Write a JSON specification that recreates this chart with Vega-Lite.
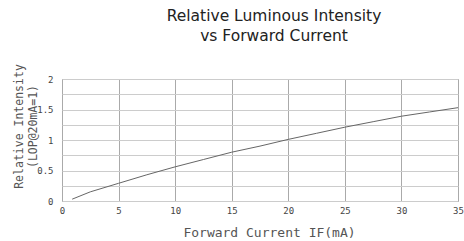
{
  "$schema": "https://vega.github.io/schema/vega-lite/v6.json",
  "autosize": "none",
  "width": 396,
  "height": 122,
  "padding": {"left": 62, "top": 79, "right": 6, "bottom": 40},
  "background": "white",
  "title": {
    "text": ["Relative Luminous Intensity", "vs Forward Current"],
    "font": "DejaVu Sans",
    "fontSize": 15.5,
    "fontWeight": "normal",
    "color": "#222",
    "anchor": "middle",
    "dx": 14,
    "offset": 19,
    "lineHeight": 20
  },
  "config": {
    "view": {"stroke": "#999", "strokeWidth": 1},
    "axis": {
      "labelFont": "DejaVu Sans Mono",
      "labelFontSize": 9,
      "labelColor": "#444",
      "titleFont": "DejaVu Sans Mono",
      "titleFontWeight": "normal",
      "titleColor": "#555",
      "ticks": false,
      "domain": false,
      "gridOpacity": 1
    }
  },
  "data": {
    "values": [
      {"current": 0.9, "intensity": 0.03},
      {"current": 2.5, "intensity": 0.15},
      {"current": 5, "intensity": 0.29},
      {"current": 7.5, "intensity": 0.43},
      {"current": 10, "intensity": 0.56},
      {"current": 12.5, "intensity": 0.68},
      {"current": 15, "intensity": 0.8},
      {"current": 17.5, "intensity": 0.9},
      {"current": 20, "intensity": 1.01},
      {"current": 22.5, "intensity": 1.11},
      {"current": 25, "intensity": 1.21},
      {"current": 27.5, "intensity": 1.3},
      {"current": 30, "intensity": 1.39},
      {"current": 32.5, "intensity": 1.46},
      {"current": 35, "intensity": 1.53}
    ]
  },
  "mark": {"type": "line", "color": "#666", "strokeWidth": 1},
  "encoding": {
    "x": {
      "field": "current",
      "type": "quantitative",
      "scale": {"domain": [0, 35], "nice": false},
      "axis": {
        "values": [0, 5, 10, 15, 20, 25, 30, 35],
        "title": "Forward Current IF(mA)",
        "titleFontSize": 13,
        "titlePadding": 11,
        "titleX": 207,
        "titleAlign": "center",
        "labelPadding": 5,
        "gridColor": "#aaa",
        "labelFlush": false
      }
    },
    "y": {
      "field": "intensity",
      "type": "quantitative",
      "scale": {"domain": [0, 2], "nice": false},
      "axis": {
        "values": [0, 0.25, 0.5, 0.75, 1, 1.25, 1.5, 1.75, 2],
        "labelExpr": "datum.value % 0.5 == 0 ? format(datum.value, '~g') : ''",
        "title": ["Relative Intensity", "(LOP@20mA=1)"],
        "titleFontSize": 11.5,
        "titleAngle": -90,
        "titleX": -38,
        "titleY": 47,
        "titleAlign": "center",
        "titleBaseline": "bottom",
        "titleLineHeight": 14,
        "labelPadding": 9,
        "gridColor": "#ccc",
        "labelFlush": false
      }
    }
  }
}
